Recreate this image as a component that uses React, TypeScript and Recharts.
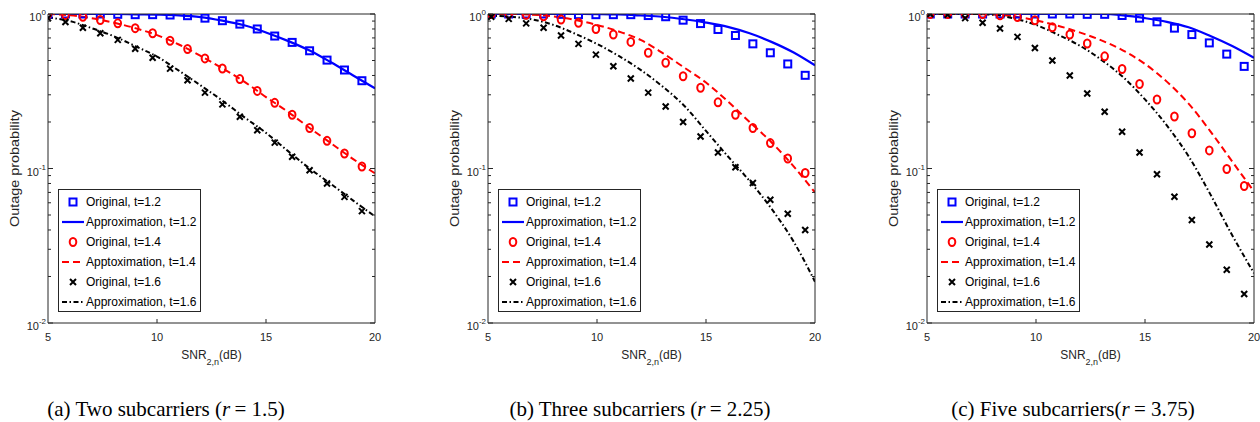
import React from 'react';
import { ComposedChart, Line, Scatter, XAxis, YAxis } from 'recharts';

const FONT = '"Liberation Sans", Arial, Helvetica, sans-serif';
const AXIS = '#262626';
const BLUE = '#0000ff';
const RED = '#ff0000';
const BLACK = '#000000';

// SNR points of the simulated markers and of the analytical curves (dB)
const markXa = [5.0, 5.8, 6.6, 7.4, 8.2, 9.0, 9.8, 10.6, 11.4, 12.2, 13.0, 13.8, 14.6, 15.4, 16.2, 17.0, 17.8, 18.6, 19.4];
const markXbc = [5.15, 5.95, 6.75, 7.55, 8.35, 9.15, 9.95, 10.75, 11.55, 12.35, 13.15, 13.95, 14.75, 15.55, 16.35, 17.15, 17.95, 18.75, 19.55];
const curveX = [5, 6, 7, 8, 9, 10, 11, 12, 13, 14, 15, 16, 17, 18, 19, 20];

// (a) two subcarriers, r = 1.5
const aOrig12 = [1.0, 1.0, 1.0, 1.0, 0.995, 0.99, 0.99, 0.985, 0.975, 0.94, 0.905, 0.86, 0.8, 0.72, 0.655, 0.578, 0.503, 0.434, 0.37];
const aApprox12 = [1.0, 1.0, 1.0, 1.0, 0.995, 0.99, 0.98, 0.955, 0.905, 0.845, 0.76, 0.67, 0.58, 0.485, 0.4, 0.33];
const aOrig14 = [1.0, 0.985, 0.96, 0.915, 0.87, 0.81, 0.75, 0.672, 0.593, 0.516, 0.444, 0.379, 0.318, 0.266, 0.223, 0.183, 0.151, 0.125, 0.103];
const aApprox14 = [1.0, 0.98, 0.94, 0.88, 0.81, 0.73, 0.635, 0.535, 0.445, 0.365, 0.29, 0.233, 0.183, 0.145, 0.115, 0.093];
const aOrig16 = [0.94, 0.888, 0.815, 0.75, 0.68, 0.596, 0.521, 0.443, 0.373, 0.31, 0.26, 0.216, 0.177, 0.147, 0.119, 0.0975, 0.08, 0.0655, 0.053];
const aApprox16 = [0.95, 0.9, 0.81, 0.72, 0.62, 0.53, 0.43, 0.345, 0.275, 0.215, 0.17, 0.13, 0.1, 0.079, 0.062, 0.049];

// (b) three subcarriers, r = 2.25
const bOrig12 = [1.0, 1.0, 1.0, 1.0, 0.995, 0.99, 0.99, 0.99, 0.99, 0.977, 0.96, 0.912, 0.867, 0.794, 0.726, 0.641, 0.561, 0.475, 0.401];
const bApprox12 = [1.0, 1.0, 1.0, 1.0, 1.0, 0.998, 0.993, 0.978, 0.96, 0.925, 0.88, 0.825, 0.75, 0.66, 0.565, 0.465];
const bOrig14 = [1.0, 1.0, 0.99, 0.967, 0.92, 0.877, 0.8, 0.736, 0.66, 0.561, 0.483, 0.395, 0.333, 0.268, 0.223, 0.183, 0.146, 0.116, 0.0935];
const bApprox14 = [1.0, 1.0, 0.99, 0.965, 0.915, 0.85, 0.77, 0.68, 0.56, 0.45, 0.36, 0.272, 0.2, 0.148, 0.104, 0.07];
const bOrig16 = [0.96, 0.93, 0.87, 0.814, 0.725, 0.641, 0.546, 0.459, 0.382, 0.31, 0.252, 0.2, 0.161, 0.127, 0.102, 0.0805, 0.0628, 0.051, 0.04];
const bApprox16 = [0.975, 0.96, 0.925, 0.85, 0.745, 0.64, 0.535, 0.435, 0.34, 0.255, 0.175, 0.12, 0.083, 0.055, 0.034, 0.0185];

// (c) five subcarriers, r = 3.75
const cOrig12 = [1.0, 1.0, 1.0, 1.0, 1.0, 1.0, 1.0, 1.0, 1.0, 0.995, 0.995, 0.978, 0.94, 0.89, 0.81, 0.736, 0.65, 0.55, 0.458];
const cApprox12 = [1.0, 1.0, 1.0, 1.0, 1.0, 1.0, 1.0, 1.0, 1.0, 0.98, 0.94, 0.89, 0.82, 0.72, 0.62, 0.52];
const cOrig14 = [1.0, 1.0, 1.0, 1.0, 0.98, 0.955, 0.91, 0.82, 0.736, 0.644, 0.532, 0.441, 0.352, 0.28, 0.217, 0.169, 0.131, 0.0993, 0.077];
const cApprox14 = [1.0, 1.0, 1.0, 0.993, 0.965, 0.91, 0.84, 0.76, 0.675, 0.58, 0.475, 0.365, 0.263, 0.174, 0.111, 0.071];
const cOrig16 = [1.0, 0.99, 0.94, 0.877, 0.805, 0.711, 0.603, 0.5, 0.4, 0.306, 0.233, 0.173, 0.127, 0.0917, 0.0656, 0.0464, 0.0322, 0.0221, 0.0154];
const cApprox16 = [1.0, 1.0, 1.0, 0.99, 0.935, 0.85, 0.735, 0.625, 0.505, 0.39, 0.28, 0.19, 0.12, 0.068, 0.037, 0.021];

const xTicks = [5, 10, 15, 20];
const yTicks = [0.01, 0.02, 0.03, 0.04, 0.05, 0.06, 0.07, 0.08, 0.09, 0.1, 0.2, 0.3, 0.4, 0.5, 0.6, 0.7, 0.8, 0.9, 1];
const yMajor = [0.01, 0.1, 1];
const yExp: Record<string, string> = { '0.01': '-2', '0.1': '-1', '1': '0' };

const legendA = ['Original, t=1.2', 'Approximation, t=1.2', 'Original, t=1.4', 'Apptoximation, t=1.4', 'Original, t=1.6', 'Approximation, t=1.6'];
const legendBC = ['Original, t=1.2', 'Approximation, t=1.2', 'Original, t=1.4', 'Approximation, t=1.4', 'Original, t=1.6', 'Approximation, t=1.6'];

const pts = (xs: number[], ys: number[]) => xs.map((x, i) => ({ x, y: ys[i] }));

const panels = [
  {
    id: 'a', plotLeft: 48, markX: markXa, legend: legendA,
    o12: aOrig12, a12: aApprox12, o14: aOrig14, a14: aApprox14, o16: aOrig16, a16: aApprox16,
    captionX: 166, caption: ['(a) Two subcarriers (', '1.5)'],
  },
  {
    id: 'b', plotLeft: 488, markX: markXbc, legend: legendBC,
    o12: bOrig12, a12: bApprox12, o14: bOrig14, a14: bApprox14, o16: bOrig16, a16: bApprox16,
    captionX: 640, caption: ['(b) Three subcarriers (', '2.25)'],
  },
  {
    id: 'c', plotLeft: 927, markX: markXbc, legend: legendBC,
    o12: cOrig12, a12: cApprox12, o14: cOrig14, a14: cApprox14, o16: cOrig16, a16: cApprox16,
    captionX: 1073, caption: ['(c) Five subcarriers(', '3.75)'],
  },
];

const Square = (p: any) => (
  <rect x={p.cx - 3.5} y={p.cy - 3.5} width={7} height={7} fill="none" stroke={BLUE} strokeWidth={2} />
);
const Ring = (p: any) => (
  <ellipse cx={p.cx} cy={p.cy} rx={3.3} ry={4} fill="none" stroke={RED} strokeWidth={2} />
);
const Cross = (p: any) => (
  <path
    d={`M${p.cx - 3},${p.cy - 3}L${p.cx + 3},${p.cy + 3}M${p.cx - 3},${p.cy + 3}L${p.cx + 3},${p.cy - 3}`}
    stroke={BLACK}
    strokeWidth={2}
  />
);

const BottomTick = (p: any) => {
  const { x, y, payload } = p;
  return (
    <g>
      {payload.value !== 5 && payload.value !== 20 && (
        <line x1={x} y1={y} x2={x} y2={y - 4} stroke={AXIS} />
      )}
      <text x={x} y={y + 18} textAnchor="middle" fontSize={11} fontFamily={FONT} fill={AXIS}>
        {payload.value}
      </text>
    </g>
  );
};

const TopTick = (p: any) => {
  const { x, y, payload } = p;
  if (payload.value === 5 || payload.value === 20) return <g />;
  return <line x1={x} y1={y} x2={x} y2={y + 4} stroke={AXIS} />;
};

const LeftTick = (p: any) => {
  const { x, y, payload } = p;
  const major = yMajor.includes(payload.value);
  return (
    <g>
      <line x1={x} y1={y} x2={x + (major ? 5 : 3)} y2={y} stroke={AXIS} />
      {major && (
        <text x={x - 2} y={y + 7} textAnchor="end" fontSize={11} fontFamily={FONT} fill={AXIS}>
          10
          <tspan dy={-6} fontSize={8}>{yExp[String(payload.value)]}</tspan>
        </text>
      )}
    </g>
  );
};

const RightTick = (p: any) => {
  const { x, y, payload } = p;
  const major = yMajor.includes(payload.value);
  return <line x1={x} y1={y} x2={x - (major ? 5 : 3)} y2={y} stroke={AXIS} />;
};

const XTitle = (p: any) => {
  const vb = p.viewBox;
  const cx = vb.x + vb.width / 2;
  const y = vb.y + 36;
  return (
    <text x={cx} y={y} textAnchor="middle" fontSize={12} fontFamily={FONT} fill={AXIS}>
      SNR
      <tspan dy={6} fontSize={9}>2,n</tspan>
      <tspan dy={-6}>(dB)</tspan>
    </text>
  );
};

const YTitle = (p: any) => {
  const vb = p.viewBox;
  const cy = vb.y + vb.height / 2;
  return (
    <text
      transform={`translate(19,${cy}) rotate(-90) scale(1.2,1)`}
      textAnchor="middle"
      fontSize={12}
      fontFamily={FONT}
      fill={AXIS}
    >
      Outage probability
    </text>
  );
};

const LegendSymbol = ({ i }: { i: number }) => {
  if (i === 0) return <Square cx={14} cy={10} />;
  if (i === 2) return <Ring cx={14} cy={10} />;
  if (i === 4) return <Cross cx={14} cy={10} />;
  if (i === 1) return <line x1={3} y1={10} x2={25} y2={10} stroke={BLUE} strokeWidth={2.2} />;
  if (i === 3) return <line x1={3} y1={10} x2={25} y2={10} stroke={RED} strokeWidth={2} strokeDasharray="7 4" />;
  return <line x1={3} y1={10} x2={25} y2={10} stroke={BLACK} strokeWidth={2} strokeDasharray="5 2.5 1.5 2.5" />;
};

const LegendBox = ({ left, labels }: { left: number; labels: string[] }) => (
  <div
    style={{
      position: 'absolute',
      left,
      top: 189,
      width: 141,
      height: 121,
      border: `1px solid ${AXIS}`,
      background: '#fff',
      fontFamily: FONT,
      fontSize: 12,
      color: '#000',
    }}
  >
    {labels.map((label, i) => (
      <div key={label + i} style={{ position: 'absolute', left: 0, top: 2 + i * 20, width: '100%', height: 20 }}>
        <svg width={28} height={20} style={{ position: 'absolute', left: 0, top: 0 }}>
          <LegendSymbol i={i} />
        </svg>
        <span style={{ position: 'absolute', left: 27, top: 2, lineHeight: '16px', whiteSpace: 'nowrap' }}>
          {label}
        </span>
      </div>
    ))}
  </div>
);

const Panel = ({ cfg }: { cfg: (typeof panels)[number] }) => (
  <div style={{ position: 'absolute', left: cfg.plotLeft - 48, top: 0 }}>
    <ComposedChart width={385} height={380} margin={{ top: 13, right: 5, bottom: 27, left: 0 }}>
      <XAxis
        dataKey="x"
        type="number"
        domain={[5, 20]}
        ticks={xTicks}
        interval={0}
        allowDataOverflow
        height={30}
        tickSize={0}
        tickMargin={0}
        tick={<BottomTick />}
        axisLine={{ stroke: AXIS }}
        label={{ content: (p: any) => <XTitle {...p} /> }}
      />
      <XAxis
        xAxisId="t"
        orientation="top"
        type="number"
        domain={[5, 20]}
        ticks={xTicks}
        interval={0}
        allowDataOverflow
        height={1}
        tickSize={0}
        tickMargin={0}
        tick={<TopTick />}
        axisLine={{ stroke: AXIS }}
      />
      <YAxis
        dataKey="y"
        type="number"
        scale="log"
        domain={[0.01, 1]}
        ticks={yTicks}
        interval={0}
        allowDataOverflow
        width={48}
        tickSize={0}
        tickMargin={0}
        tick={<LeftTick />}
        axisLine={{ stroke: AXIS }}
        label={{ content: (p: any) => <YTitle {...p} /> }}
      />
      <YAxis
        yAxisId="r"
        orientation="right"
        type="number"
        scale="log"
        domain={[0.01, 1]}
        ticks={yTicks}
        interval={0}
        allowDataOverflow
        width={5}
        tickSize={0}
        tickMargin={0}
        tick={<RightTick />}
        axisLine={{ stroke: AXIS }}
      />
      <Scatter data={pts(cfg.markX, cfg.o12)} dataKey="y" shape={<Square />} isAnimationActive={false} />
      <Line
        data={pts(curveX, cfg.a12)}
        dataKey="y"
        type="monotone"
        stroke={BLUE}
        strokeWidth={2.2}
        dot={false}
        activeDot={false}
        isAnimationActive={false}
      />
      <Scatter data={pts(cfg.markX, cfg.o14)} dataKey="y" shape={<Ring />} isAnimationActive={false} />
      <Line
        data={pts(curveX, cfg.a14)}
        dataKey="y"
        type="monotone"
        stroke={RED}
        strokeWidth={2}
        strokeDasharray="7 4"
        dot={false}
        activeDot={false}
        isAnimationActive={false}
      />
      <Scatter data={pts(cfg.markX, cfg.o16)} dataKey="y" shape={<Cross />} isAnimationActive={false} />
      <Line
        data={pts(curveX, cfg.a16)}
        dataKey="y"
        type="monotone"
        stroke={BLACK}
        strokeWidth={2}
        strokeDasharray="5 2.5 1.5 2.5"
        dot={false}
        activeDot={false}
        isAnimationActive={false}
      />
    </ComposedChart>
  </div>
);

export default function App() {
  return (
    <div
      style={{
        position: 'absolute',
        left: 0,
        top: 0,
        width: 1260,
        height: 422,
        background: '#fff',
        overflow: 'hidden',
      }}
    >
      {panels.map((cfg) => (
        <React.Fragment key={cfg.id}>
          <Panel cfg={cfg} />
          <LegendBox left={cfg.plotLeft + 10} labels={cfg.legend} />
          <div
            style={{
              position: 'absolute',
              left: cfg.captionX - 200,
              top: 397,
              width: 400,
              textAlign: 'center',
              fontFamily: '"Liberation Serif", "Times New Roman", serif',
              fontSize: 21,
              whiteSpace: 'nowrap',
              color: '#000',
            }}
          >
            {cfg.caption[0]}
            <i>r</i>
            {'\u2009= '}
            {cfg.caption[1]}
          </div>
        </React.Fragment>
      ))}
    </div>
  );
}
